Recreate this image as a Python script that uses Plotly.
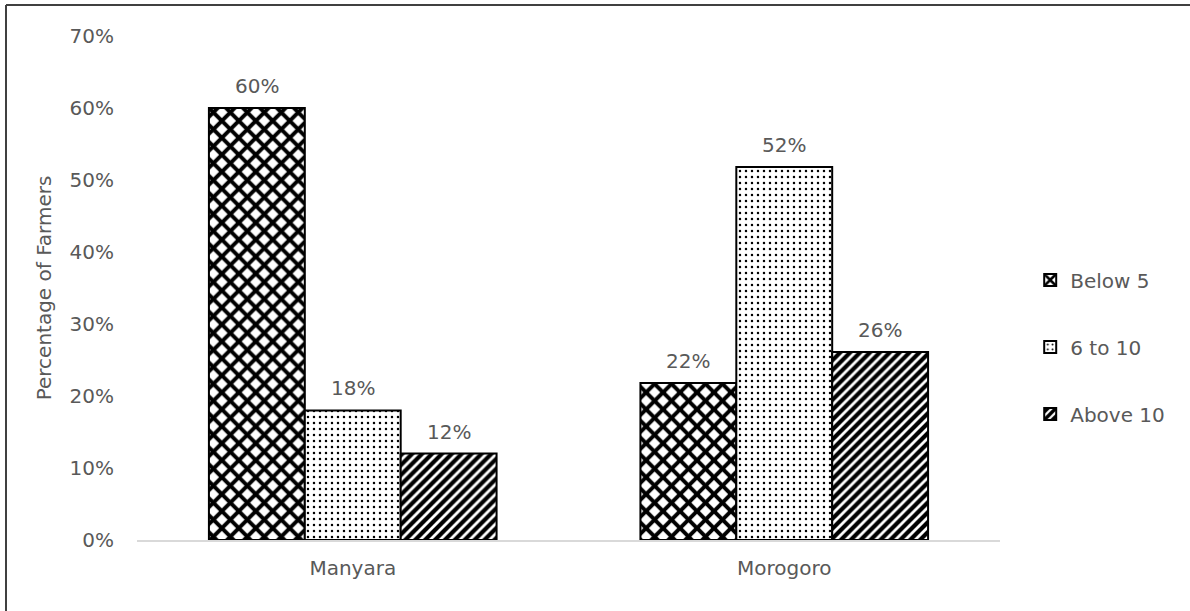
import plotly.graph_objects as go

categories = ["Manyara", "Morogoro"]
series_names = ["Below 5", "6 to 10", "Above 10"]
below_5 = [0.60, 0.218]
six_to_ten = [0.18, 0.518]
above_10 = [0.12, 0.261]
y_ticks = [0, 0.1, 0.2, 0.3, 0.4, 0.5, 0.6, 0.7]

series_values = [below_5, six_to_ten, above_10]
patterns = [
    dict(shape="x", fgcolor="black", bgcolor="white", size=12, solidity=0.55, fgopacity=1),
    dict(shape=".", fgcolor="black", bgcolor="white", size=6, solidity=0.13, fgopacity=1),
    dict(shape="/", fgcolor="black", bgcolor="white", size=7, solidity=0.6, fgopacity=1),
]

FONT = "DejaVu Sans"
GREY = "#595959"
FS = 20

fig = go.Figure()
for i, (name, vals) in enumerate(zip(series_names, series_values)):
    fig.add_trace(go.Bar(
        x=categories, y=vals, name=name,
        legendgroup=name,
        marker=dict(color="white", pattern=patterns[i],
                    line=dict(color="black", width=2)),
    ))
    for c, v in zip(categories, vals):
        fig.add_annotation(x=c, y=v, text=f"{v:.0%}", showarrow=False,
                           xshift=(i - 1) * 96, yshift=8, yanchor="bottom",
                           font=dict(family=FONT, size=FS, color=GREY))

fig.update_layout(
    width=1190, height=611,
    margin=dict(l=137, r=190, t=36, b=71),
    paper_bgcolor="white", plot_bgcolor="white",
    barmode="group", bargap=1/3, bargroupgap=0,
    font=dict(family=FONT, size=FS, color=GREY),
    legend=dict(x=1.035, xanchor="left", y=0.383, yanchor="middle",
                tracegroupgap=38, font=dict(family=FONT, size=FS, color=GREY)),
    showlegend=True,
)
fig.update_yaxes(range=[0, 0.7], tickvals=y_ticks, tickformat=".0%",
                 showgrid=False, zeroline=False, showline=False,
                 ticks="", ticklabelstandoff=22,
                 title=dict(text="Percentage of Farmers", standoff=12,
                            font=dict(family=FONT, size=FS, color=GREY)))
fig.update_xaxes(showline=True, linecolor="#d9d9d9", linewidth=1.5,
                 ticks="", showgrid=False, ticklabelstandoff=9)

# outer frame (top and left edges visible)
fig.add_shape(type="line", xref="paper", yref="paper",
              x0=-131/863, x1=1.3, y0=(540-5)/504, y1=(540-5)/504,
              line=dict(color="#404040", width=2))
fig.add_shape(type="line", xref="paper", yref="paper",
              x0=-131/863, x1=-131/863, y0=(540-5)/504, y1=-0.2,
              line=dict(color="#404040", width=2))

fig.write_html("out.html")
